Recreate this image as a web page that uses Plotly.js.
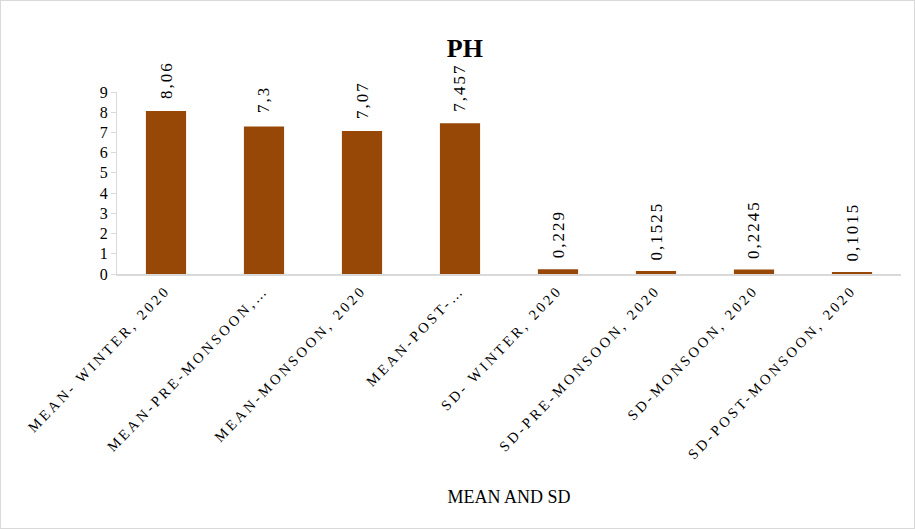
<!DOCTYPE html>
<html>
<head>
<meta charset="utf-8">
<script src="https://cdn.plot.ly/plotly-3.0.1.min.js"></script>
<style>
  html, body { margin: 0; padding: 0; background: #ffffff; }
  #frame { position: relative; width: 915px; height: 529px; box-sizing: border-box; border: 1px solid #d9d9d9; }
  #chart { position: absolute; left: -1px; top: -1px; width: 915px; height: 529px; }
  /* spaced-out category and value labels */
  #chart .xtick text { letter-spacing: 3px; }
  #chart .annotation-text { letter-spacing: 2px; }
</style>
</head>
<body>
<div id="frame"><div id="chart"></div></div>
<script>
// pH statistics per season (2020)
const categories = [
  "MEAN- WINTER, 2020",
  "MEAN-PRE-MONSOON, 2020",
  "MEAN-MONSOON, 2020",
  "MEAN-POST-MONSOON, 2020",
  "SD- WINTER, 2020",
  "SD-PRE-MONSOON, 2020",
  "SD-MONSOON, 2020",
  "SD-POST-MONSOON, 2020"
];
// axis labels as shown (long ones cut short)
const tickLabels = [
  "MEAN- WINTER, 2020",
  "MEAN-PRE-MONSOON,…",
  "MEAN-MONSOON, 2020",
  "MEAN-POST-…",
  "SD- WINTER, 2020",
  "SD-PRE-MONSOON, 2020",
  "SD-MONSOON, 2020",
  "SD-POST-MONSOON, 2020"
];
const phValues = [8.06, 7.3, 7.07, 7.457, 0.229, 0.1525, 0.2245, 0.1015];
const yTicks = [0, 1, 2, 3, 4, 5, 6, 7, 8, 9];

const serif = "Liberation Serif, Times New Roman, serif";

const trace = {
  type: "bar",
  x: categories,
  y: phValues,
  marker: { color: "#974706" },
  hoverinfo: "x+y"
};

// value labels standing vertically above each bar
const valueLabels = categories.map((c, i) => ({
  x: c,
  y: phValues[i],
  xref: "x",
  yref: "y",
  text: String(phValues[i]).replace(".", ","),
  textangle: -90,
  showarrow: false,
  xanchor: "center",
  yanchor: "bottom",
  yshift: 14,
  font: { family: serif, size: 17, color: "#000000" }
}));

const layout = {
  width: 915,
  height: 529,
  paper_bgcolor: "rgba(0,0,0,0)",
  plot_bgcolor: "#ffffff",
  margin: { l: 117, r: 14, t: 92, b: 255 },
  bargap: 0.59,
  separators: ",.",
  showlegend: false,
  annotations: valueLabels,
  title: {
    text: "<b>PH</b>",
    font: { family: serif, size: 26, color: "#000000" },
    x: 0.508,
    xanchor: "center",
    y: 0.91,
    yanchor: "middle"
  },
  xaxis: {
    type: "category",
    tickmode: "array",
    tickvals: categories,
    ticktext: tickLabels,
    tickangle: -46,
    tickfont: { family: serif, size: 14.5, color: "#000000" },
    showline: true,
    linecolor: "#d9d9d9",
    linewidth: 2,
    ticks: "",
    showgrid: false,
    zeroline: false,
    title: {
      text: "MEAN AND SD",
      font: { family: serif, size: 18, color: "#000000" },
      standoff: 74
    },
    automargin: false
  },
  yaxis: {
    range: [0, 9],
    tickmode: "array",
    tickvals: yTicks,
    ticktext: yTicks.map(String),
    tickfont: { family: serif, size: 16, color: "#000000" },
    showline: true,
    linecolor: "#d9d9d9",
    linewidth: 1,
    ticks: "outside",
    ticklen: 5,
    tickcolor: "#d9d9d9",
    showgrid: false,
    zeroline: false,
    automargin: false
  }
};

Plotly.newPlot("chart", [trace], layout, { displayModeBar: false, staticPlot: true });
</script>
</body>
</html>
